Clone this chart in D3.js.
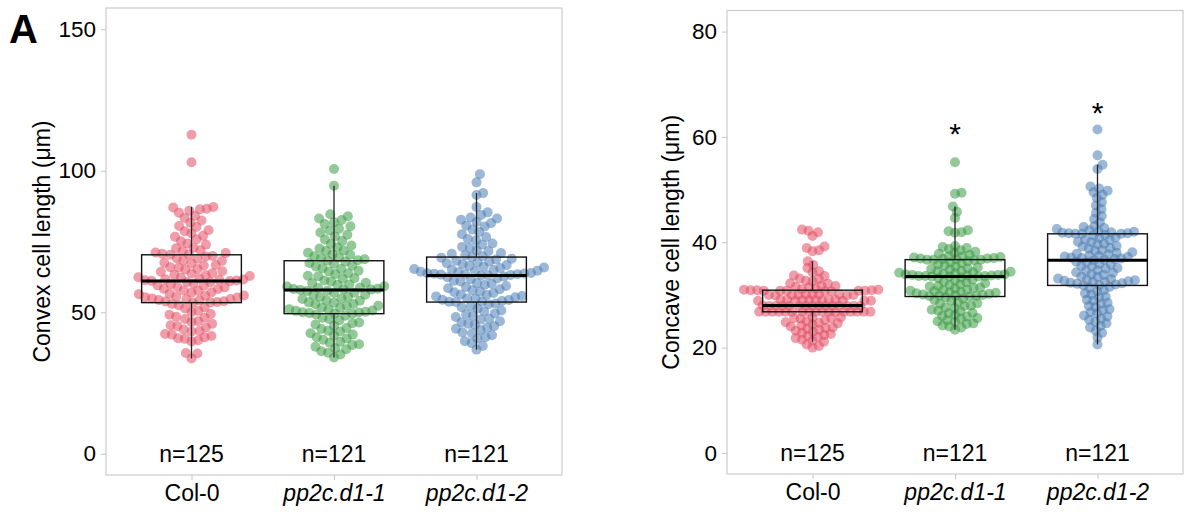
<!DOCTYPE html>
<html>
<head>
<meta charset="utf-8">
<script src="https://cdn.jsdelivr.net/npm/d3@7"></script>
<style>
  body { margin: 0; background: #fff; }
  svg text { font-family: "Liberation Sans", Arial, sans-serif; fill: #000; }
</style>
</head>
<body>
<svg width="1185" height="516"></svg>
<script>
// categories and tick labels
const categories = ["Col-0", "pp2c.d1-1", "pp2c.d1-2"];
const convexTicks = [0, 50, 100, 150];
const concaveTicks = [0, 20, 40, 60, 80];

// convex cell length (µm)
const convexCol0 = [112.7, 103.0, 87.2, 87.0, 86.6, 86.4, 85.9, 85.2, 84.1, 83.3, 82.4, 81.6, 80.5, 80.1, 79.0, 78.6,
  77.9, 77.0, 76.7, 75.8, 75.1, 74.3, 73.9, 72.8, 72.6, 71.9, 71.7, 71.1, 70.9, 70.7, 70.4, 70.3,
  69.9, 69.7, 69.1, 68.9, 68.3, 68.1, 67.5, 67.3, 66.7, 66.5, 65.9, 65.8, 65.3, 65.1, 64.5, 64.3, 63.8, 63.7,
  63.2, 63.1, 62.8, 62.4, 62.3, 61.9, 61.7, 61.6, 61.5, 61.3, 61.2, 61.1, 61.0,
  60.7, 60.6, 60.1, 59.9, 59.5, 59.4, 58.9, 58.8, 58.3, 58.2, 57.7, 57.6, 57.1, 56.9, 56.5, 56.4, 55.9, 55.8,
  55.6, 55.3, 55.2, 54.9, 54.7, 54.6, 54.3, 54.2, 53.9, 53.8, 53.6, 53.5, 53.4,
  52.9, 52.5, 51.7, 51.3, 50.5, 50.1, 49.4, 49.1, 48.4, 48.1, 47.6, 46.8, 46.6, 45.9, 45.4, 45.1, 44.6, 43.9,
  43.4, 43.2, 42.3, 42.1, 41.6, 41.2, 40.8, 40.6, 40.1, 39.7, 35.6, 35.4, 33.7];
const convexD11 = [100.6, 94.7, 84.6, 83.9, 83.1, 82.6, 81.8, 81.2, 80.4, 79.5, 78.9, 78.2, 77.4, 76.8, 75.7, 75.2,
  74.1, 73.6, 72.9, 72.5, 71.8, 71.6, 71.0, 70.5, 70.3, 69.8, 69.4, 69.1, 68.7, 68.4, 68.2,
  67.9, 67.4, 67.1, 66.5, 66.2, 65.6, 65.3, 64.7, 64.4, 63.8, 63.5, 62.9, 62.7, 62.0, 61.8, 61.2, 60.9, 60.4,
  60.3, 59.8, 59.7, 59.2, 59.1, 58.7, 58.6, 58.3, 58.2, 58.1, 58.0, 57.9,
  57.6, 57.5, 56.9, 56.8, 56.2, 56.1, 55.5, 55.4, 54.9, 54.7, 54.2, 54.1, 53.5, 53.4, 52.9, 52.8, 52.3, 52.2,
  51.7, 51.6, 51.1, 51.0, 50.6, 50.5, 50.2, 50.0, 49.9, 49.7, 49.6, 49.5,
  49.2, 48.8, 48.1, 47.6, 47.2, 46.4, 46.1, 45.7, 45.2, 44.4, 44.1, 43.5, 43.2, 42.6, 42.1, 41.8, 41.2, 40.7,
  40.3, 39.6, 39.2, 38.7, 38.4, 37.8, 37.3, 36.9, 36.2, 35.7, 35.1, 34.0];
const convexD12 = [98.8, 95.9, 92.1, 91.4, 87.2, 85.3, 84.4, 83.5, 83.1, 82.7, 81.9, 81.5, 80.6, 80.3, 79.2, 78.4,
  77.6, 76.6, 75.9, 75.4, 74.3, 73.9, 73.1, 72.7, 71.9, 71.6, 70.9, 70.7, 70.1, 69.8, 69.5,
  69.3, 68.9, 68.6, 68.2, 67.9, 67.6, 67.3, 67.0, 66.7, 66.4, 66.1, 65.8, 65.6, 65.3, 65.1, 64.9, 64.7, 64.5,
  64.3, 64.1, 63.9, 63.8, 63.7, 63.6, 63.5, 63.4, 63.3, 63.2, 63.1, 63.0,
  62.6, 62.4, 61.9, 61.7, 61.1, 60.9, 60.3, 60.1, 59.7, 59.3, 58.9, 58.5, 58.1, 57.8, 57.3, 57.1, 56.8, 56.3,
  56.2, 55.7, 55.6, 55.3, 54.9, 54.8, 54.4, 54.3, 54.0, 53.8, 53.7, 53.6,
  53.1, 52.8, 52.1, 51.8, 51.3, 50.6, 50.3, 49.6, 49.3, 48.8, 48.3, 47.7, 47.4, 46.8, 46.5, 45.9, 45.6, 45.1,
  44.5, 44.2, 43.7, 42.9, 42.6, 41.9, 41.2, 40.7, 39.8, 39.1, 38.1, 36.8];

// concave cell length (µm)
const concaveCol0 = [42.4, 42.2, 41.9, 41.2, 39.2, 38.9, 38.5, 38.3, 36.4, 35.7, 35.1, 34.5, 34.3, 33.7, 33.6, 33.1,
  33.0, 32.7, 32.6, 32.2, 32.1, 31.8, 31.7, 31.5, 31.4, 31.2, 31.1, 31.0, 31.0, 30.9, 30.9, 30.9,
  30.8, 30.8, 30.8, 30.8, 30.8, 30.7, 30.7, 30.1, 30.1, 30.1, 30.1, 30.0, 30.0, 30.0, 30.0, 29.9, 29.9,
  29.1, 29.1, 29.1, 29.1, 29.0, 29.0, 29.0, 29.0, 28.9, 28.9, 28.9, 28.9, 28.9, 28.0,
  27.9, 27.9, 27.9, 27.9, 27.9, 27.9, 27.9, 27.9, 27.9, 27.9, 27.9, 27.9, 27.9, 27.9,
  26.8, 26.8, 26.8, 26.8, 26.8, 26.8, 26.8, 26.8, 26.8, 26.8, 26.8, 26.8, 26.8, 26.8, 26.8, 26.8, 26.8,
  25.7, 25.7, 25.6, 25.6, 25.5, 25.2, 25.0, 24.8, 24.7, 24.6, 24.4, 24.2, 24.0, 23.8, 23.7, 23.6, 23.4, 23.2,
  23.0, 22.8, 22.6, 22.4, 22.2, 22.0, 21.8, 21.5, 21.3, 21.1, 20.6, 20.3, 20.0];
const concaveD11 = [55.2, 49.4, 49.2, 46.8, 45.8, 44.6, 42.3, 42.1, 41.9, 41.8, 39.3, 39.1, 38.9, 38.7, 38.5, 38.2,
  38.0, 37.8, 37.6, 37.4, 37.3, 37.2, 37.1, 37.0, 36.9, 36.9, 36.8, 36.8, 36.7, 36.7, 36.7,
  36.6, 36.4, 36.2, 36.0, 35.8, 35.6, 35.4, 35.2, 35.0, 34.9, 34.8, 34.6, 34.5, 34.4, 34.3, 34.2, 34.1, 34.0,
  33.9, 33.9, 33.8, 33.8, 33.7, 33.7, 33.6, 33.6, 33.6, 33.5, 33.5, 33.5,
  33.3, 33.2, 32.9, 32.8, 32.5, 32.4, 32.2, 32.0, 31.9, 31.7, 31.6, 31.4, 31.3, 31.2, 31.0, 30.9, 30.8, 30.7,
  30.6, 30.5, 30.4, 30.3, 30.2, 30.1, 30.0, 29.9, 29.9, 29.8, 29.8, 29.7,
  29.5, 29.3, 29.0, 28.9, 28.6, 28.4, 28.3, 28.0, 27.9, 27.6, 27.5, 27.2, 27.0, 26.9, 26.6, 26.5, 26.2, 26.0,
  25.9, 25.6, 25.5, 25.2, 25.0, 24.9, 24.6, 24.5, 24.2, 24.0, 23.8, 23.4];
const concaveD12 = [61.4, 56.5, 54.7, 53.9, 50.6, 50.2, 49.8, 49.5, 49.0, 48.4, 47.6, 47.0, 46.3, 45.6, 45.0, 44.4,
  43.8, 43.1, 42.9, 42.7, 42.5, 42.3, 42.1, 42.0, 41.9, 41.8, 41.7, 41.7, 41.6, 41.6, 41.6,
  41.4, 41.3, 40.9, 40.8, 40.5, 40.4, 40.1, 40.0, 39.7, 39.6, 39.3, 39.2, 38.9, 38.8, 38.5, 38.4, 38.1, 38.0,
  37.8, 37.7, 37.5, 37.4, 37.3, 37.2, 37.1, 37.0, 36.9, 36.8, 36.7, 36.6,
  36.3, 36.2, 35.9, 35.8, 35.5, 35.4, 35.1, 35.0, 34.7, 34.6, 34.3, 34.2, 33.9, 33.8, 33.5, 33.4, 33.1, 33.0,
  32.9, 32.8, 32.7, 32.6, 32.5, 32.4, 32.3, 32.2, 32.1, 32.0, 31.9, 31.8,
  31.5, 31.3, 30.9, 30.7, 30.3, 30.1, 29.7, 29.5, 29.1, 28.9, 28.5, 28.3, 27.9, 27.7, 27.3, 27.1, 26.7, 26.5,
  26.1, 25.9, 25.5, 25.3, 24.9, 24.6, 24.1, 23.8, 23.2, 22.8, 21.9, 20.6];

// significance marks (height in µm, null = none)
const concaveStars = [null, 62, 66];

const colors = ["#e34d65", "#3a9a44", "#4a7db4"];

const svg = d3.select("svg");
const R = 5;

function stats(vals) {
  const s = vals.slice().sort(d3.ascending);
  const q1 = d3.quantileSorted(s, 0.25),
        med = d3.quantileSorted(s, 0.5),
        q3 = d3.quantileSorted(s, 0.75);
  const iqr = q3 - q1;
  return {
    q1, med, q3,
    lo: d3.min(s.filter(v => v >= q1 - 1.5 * iqr)),
    hi: d3.max(s.filter(v => v <= q3 + 1.5 * iqr))
  };
}

// beeswarm: place each point (low to high) as close to the centre as it fits,
// with an elliptical keep-out of gx by gy pixels
function swarm(vals, y, gx, gy) {
  const pts = vals.map(v => ({ v, y: y(v) })).sort((a, b) => b.y - a.y);
  const placed = [];
  const clash = (a, off, q) => ((q.off - off) / gx) ** 2 + ((q.y - a.y) / gy) ** 2 < 1 - 1e-6;
  pts.forEach(p => {
    const cands = [0];
    placed.forEach(q => {
      const dy = Math.abs(q.y - p.y);
      if (dy < gy) {
        const dx = gx * Math.sqrt(1 - (dy / gy) ** 2);
        cands.push(q.off + dx, q.off - dx);
      }
    });
    cands.sort((a, b) => Math.abs(a) - Math.abs(b));
    p.off = cands.find(c => !placed.some(q => clash(p, c, q)));
    placed.push(p);
  });
  return pts;
}

function drawPanel(cfg) {
  const g = svg.append("g");
  const x = d3.scalePoint().domain(categories).range([cfg.x0, cfg.x1]).padding(0.6);
  const y = d3.scaleLinear().domain(cfg.domain).range([cfg.y1, cfg.y0]);
  const step = x.step();

  g.append("rect")
    .attr("x", cfg.x0).attr("y", cfg.y0)
    .attr("width", cfg.x1 - cfg.x0).attr("height", cfg.y1 - cfg.y0)
    .attr("fill", "none").attr("stroke", "#cccccc").attr("stroke-width", 1.2);

  const ya = g.append("g").attr("transform", `translate(${cfg.x0},0)`)
    .call(d3.axisLeft(y).tickValues(cfg.ticks).tickSize(5).tickPadding(5));
  const xa = g.append("g").attr("transform", `translate(0,${cfg.y1})`)
    .call(d3.axisBottom(x).tickSize(5).tickPadding(5));
  [ya, xa].forEach(a => {
    a.select(".domain").remove();
    a.selectAll(".tick line").attr("stroke", "#c4c4c4");
    a.selectAll(".tick text").attr("font-size", 22.5).attr("fill", "#000")
      .attr("font-family", '"Liberation Sans", Arial, sans-serif');
  });
  xa.selectAll(".tick text").attr("font-size", 23)
    .attr("font-style", d => d.startsWith("pp2c") ? "italic" : "normal");

  cfg.series.forEach((vals, i) => {
    const cx = x(categories[i]);
    const pts = swarm(vals, y, cfg.gx, cfg.gy);
    g.append("g").selectAll("circle").data(pts).join("circle")
      .attr("cx", d => cx + d.off).attr("cy", d => d.y).attr("r", R)
      .attr("fill", colors[i]).attr("fill-opacity", 0.55);

    const s = stats(vals);
    const bw = step * 0.7;
    const bx = g.append("g");
    bx.append("line").attr("x1", cx).attr("x2", cx)
      .attr("y1", y(s.hi)).attr("y2", y(s.q3)).attr("stroke", "#222").attr("stroke-width", 1.3);
    bx.append("line").attr("x1", cx).attr("x2", cx)
      .attr("y1", y(s.q1)).attr("y2", y(s.lo)).attr("stroke", "#222").attr("stroke-width", 1.3);
    bx.append("rect").attr("x", cx - bw / 2).attr("y", y(s.q3))
      .attr("width", bw).attr("height", y(s.q1) - y(s.q3))
      .attr("fill", "none").attr("stroke", "#111").attr("stroke-width", 1.4);
    bx.append("line").attr("x1", cx - bw / 2).attr("x2", cx + bw / 2)
      .attr("y1", y(s.med)).attr("y2", y(s.med)).attr("stroke", "#000").attr("stroke-width", 3);

    g.append("text").attr("x", cx).attr("y", y(0)).attr("dy", "0.35em")
      .attr("text-anchor", "middle").attr("font-size", 23)
      .text("n=" + vals.length);

    if (cfg.stars && cfg.stars[i] != null) {
      g.append("text").attr("x", cx).attr("y", y(cfg.stars[i])).attr("dy", "0.6em")
        .attr("text-anchor", "middle").attr("font-size", 30)
        .text("*");
    }
  });

  g.append("text")
    .attr("transform", `translate(${cfg.titleX},${(cfg.y0 + cfg.y1) / 2}) rotate(-90)`)
    .attr("text-anchor", "middle").attr("dy", "0.35em").attr("font-size", 23)
    .text(cfg.title);
}

drawPanel({
  x0: 106, x1: 562, y0: 8, y1: 475,
  domain: [-7.5, 157.5], ticks: convexTicks,
  series: [convexCol0, convexD11, convexD12], gx: 6.8, gy: 9.5,
  title: "Convex cell length (μm)", titleX: 42
});

drawPanel({
  x0: 727, x1: 1183, y0: 10.5, y1: 474,
  domain: [-4, 84], ticks: concaveTicks,
  series: [concaveCol0, concaveD11, concaveD12], gx: 6.6, gy: 6.6,
  stars: concaveStars,
  title: "Concave cell length (μm)", titleX: 671
});

svg.append("text").attr("x", 9).attr("y", 43)
  .attr("font-size", 40).attr("font-weight", "bold").text("A");
</script>
</body>
</html>
